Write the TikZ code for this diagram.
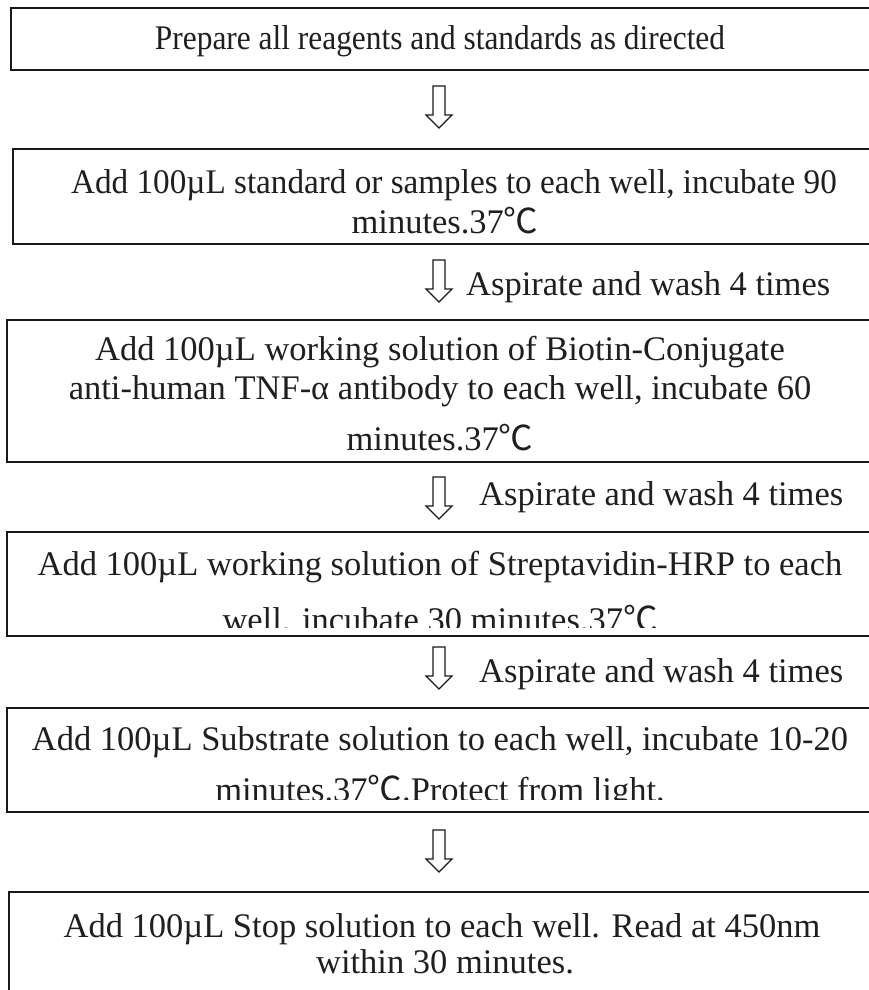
\documentclass[tikz,border=0pt]{standalone}
\usepackage{fontspec}
\setmainfont{Liberation Serif}
\newfontfamily\cjkfont{Noto Sans CJK SC}
\newcommand{\degC}{{\cjkfont ℃}}
\begin{document}
\begin{tikzpicture}[x=1pt,y=-1pt,
  box/.style={draw=black!90, line width=2pt, anchor=north west, inner sep=0pt, outer sep=0pt},
  txt/.style={anchor=base, inner sep=0pt, font=\fontsize{34.5}{40}\selectfont, text=black!88},
  lbl/.style={anchor=base west, inner sep=0pt, font=\fontsize{34.5}{40}\selectfont, text=black!88},
  barrow/.style={draw=black!90, line width=1.2pt, fill=white, line join=miter},
  downarrow/.pic={\draw[barrow] (-6,0) -- (6,0) -- (6,29) -- (13,29) -- (0,42) -- (-13,29) -- (-6,29) -- cycle;}]
\useasboundingbox (0,0) rectangle (869,990);
\clip (0,0) rectangle (869,990);
\fill[white] (0,0) rectangle (869,990);

% boxes
\node[box, minimum width=900pt, minimum height=62pt] (b1) at (11,8) {};
\node[box, minimum width=900pt, minimum height=95pt] (b2) at (13,149) {};
\node[box, minimum width=900pt, minimum height=142pt] (b3) at (7,320) {};
\node[box, minimum width=900pt, minimum height=104pt] (b4) at (7,532) {};
\node[box, minimum width=900pt, minimum height=104pt] (b5) at (7,708) {};
\node[box, minimum width=900pt, minimum height=120pt] (b6) at (9,892) {};

% texts
\node[txt] (t1) at (440,50) {\scalebox{0.91}[1]{Prepare all reagents and standards as directed}};
\node[txt] (t2a) at (454,193) {\scalebox{0.962}[1]{Add 100µL standard or samples to each well, incubate 90}};
\node[txt] (t2b) at (445,233) {minutes.37\degC};
\node[txt] (t3a) at (440,360) {Add 100µL working solution of Biotin-Conjugate};
\node[txt] (t3b) at (440,399) {anti-human TNF-α antibody to each well, incubate 60};
\node[txt] (t3c) at (440,450) {minutes.37\degC};
\node[txt] (t4a) at (440,575) {Add 100µL working solution of Streptavidin-HRP to each};
\begin{scope}
\clip (0,540) rectangle (869,627);
\node[txt] (t4b) at (440,631) {well. incubate 30 minutes.37\degC};
\end{scope}
\node[txt] (t5a) at (440,750) {Add 100µL Substrate solution to each well, incubate 10-20};
\begin{scope}
\clip (0,760) rectangle (869,799);
\node[txt] (t5b) at (440,801) {minutes.37\degC.Protect from light.};
\end{scope}
\node[txt] (t6a) at (442,937) {Add 100µL Stop solution to each well. Read at 450nm};
\node[txt] (t6b) at (445,973) {within 30 minutes.};

% arrows
\pic (a1) at (439,86) {downarrow};
\pic (a2) at (439,260) {downarrow};
\pic (a3) at (439,477) {downarrow};
\pic (a4) at (439,647) {downarrow};
\pic (a5) at (439,830) {downarrow};

% labels
\node[lbl] (l2) at (466,295) {Aspirate and wash 4 times};
\node[lbl] (l3) at (479,505) {Aspirate and wash 4 times};
\node[lbl] (l4) at (479,682) {Aspirate and wash 4 times};
\end{tikzpicture}
\end{document}
